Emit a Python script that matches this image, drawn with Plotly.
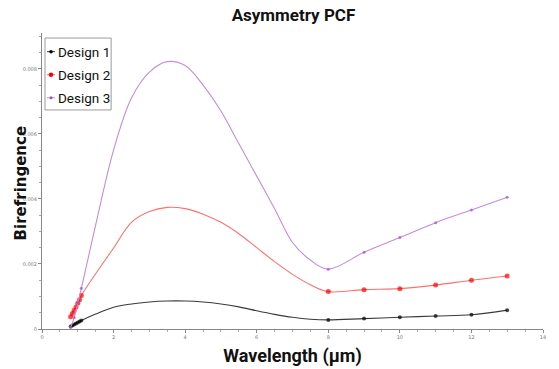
import plotly.graph_objects as go

# ---- data ----
names = ["Design 1", "Design 2", "Design 3"]

# measured points (shown with markers)
d1_x = [0.8, 0.85, 0.9, 0.95, 1.0, 1.05, 1.1, 8, 9, 10, 11, 12, 13]
d1_y = [0.00008, 0.00011, 0.00014, 0.00017, 0.0002, 0.00023, 0.00026,
        0.00028, 0.00032, 0.00036, 0.0004, 0.00044, 0.00058]
d2_x = [0.8, 0.85, 0.9, 0.95, 1.0, 1.05, 1.1, 8, 9, 10, 11, 12, 13]
d2_y = [0.00038, 0.00048, 0.00058, 0.00068, 0.00079, 0.0009, 0.00103,
        0.00115, 0.00121, 0.00124, 0.00135, 0.0015, 0.00163]
d3_x = [0.8, 0.9, 1.0, 1.1, 8, 9, 10, 11, 12, 13]
d3_y = [0.00005, 0.00035, 0.0008, 0.00125,
        0.00184, 0.00236, 0.00281, 0.00327, 0.00366, 0.00405]

# curve samples read along the drawn (smoothed) lines, no markers
c1_x = [1.5, 2.0, 2.5, 3.0, 3.5, 4.0, 4.5, 5.0, 5.5, 6.0, 6.5, 7.0, 7.5]
c1_y = [0.00046, 0.00067, 0.00077, 0.00083, 0.00086, 0.00086, 0.00083,
        0.00077, 0.00068, 0.00056, 0.00045, 0.00036, 0.0003]
c2_x = [1.5, 2.0, 2.5, 3.0, 3.5, 4.0, 4.5, 5.0, 5.5, 6.0, 6.5, 7.0, 7.5]
c2_y = [0.0017, 0.00249, 0.00328, 0.00361, 0.00374, 0.0037, 0.00353,
        0.00328, 0.00293, 0.0025, 0.00207, 0.00168, 0.00136]
c3_x = [1.5, 2.0, 2.5, 3.0, 3.5, 4.0, 4.5, 5.0, 5.5, 6.0, 6.5, 7.0, 7.5]
c3_y = [0.0032, 0.0055, 0.0071, 0.0079, 0.00822, 0.0081, 0.0075,
        0.0067, 0.0057, 0.0047, 0.0037, 0.00266, 0.00212]

line_colors = ["#3a3a3a", "#ff7070", "#c98ad9"]
marker_colors = ["#000000", "#ff0000", "#a050c0"]
marker_sizes = [4, 5, 3]

series = [(d1_x, d1_y, c1_x, c1_y), (d2_x, d2_y, c2_x, c2_y), (d3_x, d3_y, c3_x, c3_y)]

fig = go.Figure()
for i, (dx, dy, cx, cy) in enumerate(series):
    pts = [(x, y, marker_sizes[i]) for x, y in zip(dx, dy)] + [(x, y, 0) for x, y in zip(cx, cy)]
    pts.sort(key=lambda p: p[0])
    fig.add_trace(go.Scatter(
        x=[p[0] for p in pts], y=[p[1] for p in pts],
        mode="lines+markers", name=names[i],
        line=dict(color=line_colors[i], width=1.1, shape="spline", smoothing=1.0),
        marker=dict(color=marker_colors[i], size=[p[2] for p in pts], line=dict(width=0)),
        showlegend=False,
    ))

narrow = "Liberation Sans Narrow, Roboto, sans-serif"

# manual legend (box, symbols, labels)
shapes = [dict(type="rect", xref="paper", yref="paper", x0=0.006, x1=0.138, y0=0.74, y1=0.983,
               line=dict(color="#9a9a9a", width=1), fillcolor="rgba(255,255,255,0)")]
annotations = []
leg_y = [0.937, 0.859, 0.781]
for i in range(3):
    shapes.append(dict(type="line", xref="paper", yref="paper", x0=0.01, x1=0.026,
                       y0=leg_y[i], y1=leg_y[i], line=dict(color=line_colors[i], width=1)))
    r = [0.0035, 0.0045, 0.003][i]
    shapes.append(dict(type="circle", xref="paper", yref="paper",
                       x0=0.018 - r, x1=0.018 + r, y0=leg_y[i] - r * 501 / 296, y1=leg_y[i] + r * 501 / 296,
                       fillcolor=marker_colors[i], line=dict(width=0)))
    annotations.append(dict(xref="paper", yref="paper", x=0.028, y=leg_y[i], text=names[i],
                            showarrow=False, xanchor="left", yanchor="middle",
                            font=dict(family=narrow, size=13.5, color="#111111")))

# y axis title placed as rotated text left of the axis
annotations.append(dict(xref="paper", yref="paper", x=-0.04, y=0.495, text="<b>Birefringence</b>",
                        textangle=-90, showarrow=False, xanchor="center", yanchor="middle",
                        font=dict(family="DejaVu Sans, Verdana, sans-serif", size=15, color="#111111")))

fig.update_layout(
    width=559, height=369,
    margin=dict(l=42, r=16, t=33, b=40, autoexpand=False),
    paper_bgcolor="white", plot_bgcolor="white",
    title=dict(text="<b>Asymmetry PCF</b>", x=0.525, xanchor="center", y=0.96, yanchor="middle",
               font=dict(family=narrow, size=17, color="#111111")),
    shapes=shapes, annotations=annotations,
    showlegend=False,
    xaxis=dict(range=[0, 14], tickmode="linear", tick0=0, dtick=2, automargin=False,
               showgrid=False, zeroline=False, showline=True, linecolor="#888888", linewidth=1,
               ticks="outside", ticklen=3, tickcolor="#888888",
               minor=dict(dtick=0.5, ticks="outside", ticklen=2, tickcolor="#aaaaaa"),
               tickfont=dict(size=5, color="#777777", family="DejaVu Sans"),
               title=dict(text="<b>Wavelength (μm)</b>", standoff=10,
                          font=dict(family=narrow, size=18, color="#111111"))),
    yaxis=dict(range=[0, 0.0091], tickmode="array", automargin=False,
               tickvals=[0, 0.002, 0.004, 0.006, 0.008],
               ticktext=["0", "0.002", "0.004", "0.006", "0.008"],
               showgrid=False, zeroline=False, showline=True, linecolor="#888888", linewidth=1,
               ticks="outside", ticklen=3, tickcolor="#888888",
               minor=dict(dtick=0.0005, ticks="outside", ticklen=2, tickcolor="#aaaaaa"),
               tickfont=dict(size=5, color="#777777", family="DejaVu Sans")),
)

fig.write_html("out.html")
